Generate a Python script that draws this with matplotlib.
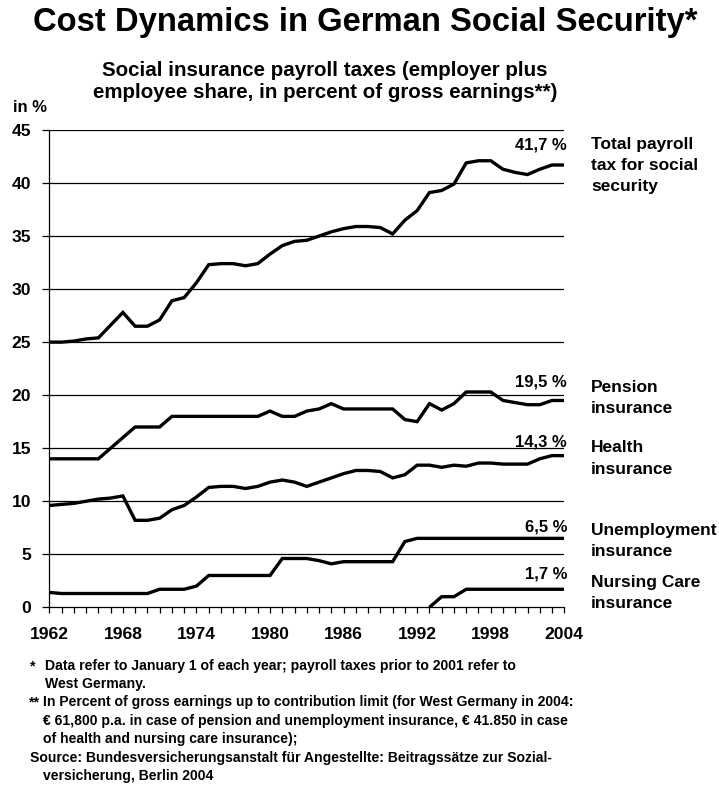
import numpy as np
import matplotlib.pyplot as plt
from matplotlib.ticker import MultipleLocator

plt.rcParams["font.family"] = ["Liberation Sans", "DejaVu Sans"]
plt.rcParams["font.weight"] = "bold"

years = np.arange(1962, 2005)

# payroll tax rates in % of gross earnings, January 1 of each year
total = [25.0, 25.0, 25.1, 25.3, 25.4, 26.6, 27.8, 26.5, 26.5, 27.1,
         28.9, 29.2, 30.6, 32.3, 32.4, 32.4, 32.2, 32.4, 33.3, 34.1,
         34.5, 34.6, 35.0, 35.4, 35.7, 35.9, 35.9, 35.8, 35.2, 36.5,
         37.4, 39.1, 39.3, 39.9, 41.9, 42.1, 42.1, 41.3, 41.0, 40.8,
         41.3, 41.7, 41.7]
pension = [14.0, 14.0, 14.0, 14.0, 14.0, 15.0, 16.0, 17.0, 17.0, 17.0,
           18.0, 18.0, 18.0, 18.0, 18.0, 18.0, 18.0, 18.0, 18.5, 18.0,
           18.0, 18.5, 18.7, 19.2, 18.7, 18.7, 18.7, 18.7, 18.7, 17.7,
           17.5, 19.2, 18.6, 19.2, 20.3, 20.3, 20.3, 19.5, 19.3, 19.1,
           19.1, 19.5, 19.5]
health = [9.6, 9.7, 9.8, 10.0, 10.2, 10.3, 10.5, 8.2, 8.2, 8.4,
          9.2, 9.6, 10.4, 11.3, 11.4, 11.4, 11.2, 11.4, 11.8, 12.0,
          11.8, 11.4, 11.8, 12.2, 12.6, 12.9, 12.9, 12.8, 12.2, 12.5,
          13.4, 13.4, 13.2, 13.4, 13.3, 13.6, 13.6, 13.5, 13.5, 13.5,
          14.0, 14.3, 14.3]
unemployment = [1.4, 1.3, 1.3, 1.3, 1.3, 1.3, 1.3, 1.3, 1.3, 1.7,
                1.7, 1.7, 2.0, 3.0, 3.0, 3.0, 3.0, 3.0, 3.0, 4.6,
                4.6, 4.6, 4.4, 4.1, 4.3, 4.3, 4.3, 4.3, 4.3, 6.2,
                6.5, 6.5, 6.5, 6.5, 6.5, 6.5, 6.5, 6.5, 6.5, 6.5,
                6.5, 6.5, 6.5]
# nursing care insurance introduced in the mid-1990s
nursing = [np.nan] * 31 + [0.0, 1.0, 1.0, 1.7, 1.7, 1.7, 1.7, 1.7, 1.7,
                           1.7, 1.7, 1.7]

series = [total, pension, health, unemployment, nursing]
names = ["Total payroll\ntax for social\nsecurity", "Pension\ninsurance",
         "Health\ninsurance", "Unemployment\ninsurance",
         "Nursing Care\ninsurance"]
# vertical offset (points) of the end value label, and y of the name block (px)
value_dy = [14.5, 13, 10, 8, 11]
name_y = [165.5, 398, 458.5, 541.5, 593.5]

W, H = 719, 785
fig = plt.figure(figsize=(W / 100, H / 100), dpi=100)
ax = fig.add_axes([49.3 / W, 1 - 607.3 / H, 515 / W, 477.3 / H])

for vals in series:
    ax.plot(years, vals, color="black", lw=2.4, solid_joinstyle="miter",
            solid_capstyle="butt", zorder=3)

ax.set_xlim(1962, 2004)
ax.set_ylim(0, 45)
ax.set_xticks(np.arange(1962, 2005, 6))
ax.xaxis.set_minor_locator(MultipleLocator(1))
ax.yaxis.set_major_locator(MultipleLocator(5))
for y in range(5, 50, 5):
    ax.axhline(y, color="black", lw=0.9, zorder=1)

for s in ("top", "right"):
    ax.spines[s].set_visible(False)
for s in ("left", "bottom"):
    ax.spines[s].set_linewidth(0.9)
ax.tick_params(axis="x", which="both", direction="out", length=4, width=0.9,
               labelsize=12.6, pad=10)
ax.tick_params(axis="y", direction="out", length=5, width=0.9,
               labelsize=12.6, pad=8)
for lbl in ax.get_xticklabels() + ax.get_yticklabels():
    lbl.set_fontweight("bold")

for vals, dy in zip(series, value_dy):
    end = vals[-1]
    ax.annotate(f"{end:.1f} %".replace(".", ","), xy=(years[-1], end),
                xytext=(2, dy), textcoords="offset points", ha="right",
                va="center", fontsize=12, fontweight="bold",
                annotation_clip=False)

for name, y in zip(names, name_y):
    fig.text(591 / W, 1 - y / H, name, ha="left", va="center",
             fontsize=12.5, fontweight="bold", linespacing=1.5)

fig.text(365 / W, 1 - 23 / H, "Cost Dynamics in German Social Security*",
         ha="center", va="center", fontsize=23.6, fontweight="bold")
fig.text(325 / W, 1 - 71 / H,
         "Social insurance payroll taxes (employer plus",
         ha="center", va="center", fontsize=14.8, fontweight="bold")
fig.text(325 / W, 1 - 92 / H,
         "employee share, in percent of gross earnings**)",
         ha="center", va="center", fontsize=14.8, fontweight="bold")
fig.text(13 / W, 1 - 108 / H, "in %", ha="left", va="center",
         fontsize=12, fontweight="bold")

notes = [
    (30, 666, "*"),
    (45, 666, "Data refer to January 1 of each year; payroll taxes prior to 2001 refer to"),
    (45, 684, "West Germany."),
    (29, 702, "**"),
    (43, 702, "In Percent of gross earnings up to contribution limit (for West Germany in 2004:"),
    (43, 721, "\u20ac 61,800 p.a. in case of pension and unemployment insurance, \u20ac 41.850 in case"),
    (43, 739, "of health and nursing care insurance);"),
    (30, 758, "Source: Bundesversicherungsanstalt f\u00fcr Angestellte: Beitragss\u00e4tze zur Sozial-"),
    (43, 776, "versicherung, Berlin 2004"),
]
for x, y, txt in notes:
    fig.text(x / W, 1 - y / H, txt, ha="left", va="center", fontsize=10.1,
             fontweight="bold")

fig.savefig("out.png", dpi=100)
